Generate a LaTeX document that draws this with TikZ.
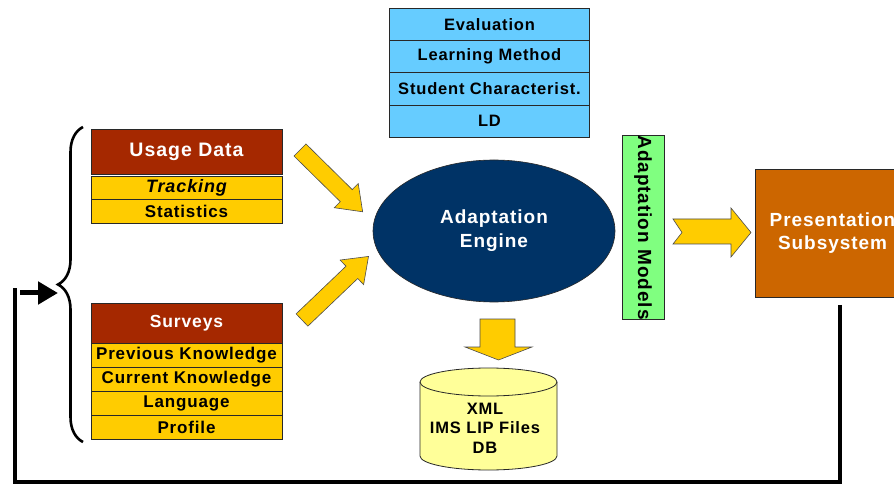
\documentclass[tikz,border=0pt]{standalone}
\usepackage{fontspec}
\setmainfont{Liberation Sans}
\usetikzlibrary{decorations.pathreplacing,arrows.meta,shapes.geometric}
\definecolor{hdred}{RGB}{165,40,0}
\definecolor{rowyel}{RGB}{255,204,0}
\definecolor{lblue}{RGB}{102,204,255}
\definecolor{navy}{RGB}{0,51,102}
\definecolor{lgreen}{RGB}{128,255,128}
\definecolor{orng}{RGB}{204,102,0}
\definecolor{dbyel}{RGB}{255,255,153}
\definecolor{edge}{RGB}{40,40,40}
\newcommand{\fs}[1]{\fontsize{#1}{#1}\selectfont\addfontfeature{LetterSpace=5}}
\tikzset{
  hdr/.style={draw=edge, line width=0.8pt, fill=hdred, text=white, inner sep=0pt, minimum width=191pt},
  rowbox/.style={draw=edge, line width=0.8pt, fill=rowyel, inner sep=0pt, minimum width=191pt, minimum height=24.2pt, font=\bfseries\fs{17}},
  bluebox/.style={draw=edge, line width=0.8pt, fill=lblue, inner sep=0pt, minimum width=200pt, minimum height=32.3pt, font=\bfseries\fs{16.5}},
  fatarrow/.style={draw=black!70, line width=0.6pt, fill=rowyel, line join=miter},
  feedback/.style={line width=4.5pt, black},
}
\begin{document}
\begin{tikzpicture}[x=1pt,y=-1pt]
\useasboundingbox (0,0) rectangle (894,486);
\clip (0,0) rectangle (894,486);
\fill[white] (0,0) rectangle (894,486);

% Usage data block
\node[hdr, minimum height=45pt, font=\bfseries\fs{19.5}] (ud) at (186.5,151.5) {Usage Data};
\node[rowbox, font=\bfseries\itshape\fs{18}] (tr) at (186.5,188.1) {Tracking};
\node[rowbox] (st) at (186.5,211.5) {Statistics};

% Surveys block
\node[hdr, minimum height=40pt, font=\bfseries\fs{17.5}] (sv) at (186.5,323) {Surveys};
\node[rowbox] (pk) at (186.5,355.1) {Previous Knowledge};
\node[rowbox] (ck) at (186.5,379.3) {Current Knowledge};
\node[rowbox] (lg) at (186.5,403.5) {Language};
\node[rowbox] (pf) at (186.5,427.7) {Profile};

% Brace
\coordinate (bt) at (83,127);
\coordinate (bb) at (83,442);
\draw[line width=2.6pt, decorate, decoration={brace, amplitude=25pt}] (bb) -- (bt);

% Model stack
\node[bluebox] (ev) at (489.5,24.2) {Evaluation};
\node[bluebox] (lm) at (489.5,56.5) {Learning Method};
\node[bluebox] (sc) at (489.5,88.8) {Student Characterist.};
\node[bluebox] (ld) at (489.5,121.1) {LD};

% Engine
\node[ellipse, draw=edge, line width=0.6pt, fill=navy, minimum width=242pt, minimum height=142pt, inner sep=0pt, text=white, align=center, font=\bfseries\fs{19}] (eng) at (494,231) {Adaptation\\[5pt]Engine};

% Adaptation models bar
\node[draw=edge, line width=0.8pt, fill=lgreen, rotate=-90, minimum width=183pt, minimum height=42pt, inner sep=0pt, font=\bfseries\fs{19}] (am) at (643,227.5) {Adaptation Models};

% Presentation subsystem
\node[draw=edge, line width=0.8pt, fill=orng, minimum width=155pt, minimum height=128pt, inner sep=0pt, text=white, align=center, font=\bfseries\fs{19}] (ps) at (832.5,233) {Presentation\\[4pt]Subsystem};

% Chevron arrow between models and presentation
\draw[fatarrow] (673,219) -- (731,219) -- (731,208) -- (751,232.5) -- (731,257) -- (731,244) -- (673,244) -- (682,232.5) -- cycle;

% Diagonal arrows into engine
\begin{scope}[shift={(300,150)}, rotate=-44.6]
  \draw[fatarrow] (0,-8.5) -- (65,-8.5) -- (65,-17) -- (88,0) -- (65,17) -- (65,8.5) -- (0,8.5) -- cycle;
\end{scope}
\begin{scope}[shift={(302,320)}, rotate=43.7]
  \draw[fatarrow] (0,-8.5) -- (69,-8.5) -- (69,-17) -- (92,0) -- (69,17) -- (69,8.5) -- (0,8.5) -- cycle;
\end{scope}

% Down arrow into DB
\draw[fatarrow] (480,319) -- (515,319) -- (515,347) -- (532,347) -- (498.5,360) -- (465,347) -- (480,347) -- cycle;

% Database cylinder
\fill[dbyel] (420,382) -- (420,456) arc[start angle=180, end angle=360, x radius=68.5pt, y radius=14pt] -- (557,382) arc[start angle=0, end angle=180, x radius=68.5pt, y radius=14pt] -- cycle;
\draw[edge, line width=0.8pt] (420,382) -- (420,456) arc[start angle=180, end angle=360, x radius=68.5pt, y radius=14pt] -- (557,382);
\draw[edge, line width=0.8pt] (488.5,382) ellipse[x radius=68.5pt, y radius=14pt];
\node[align=center, inner sep=0pt, font=\bfseries\fs{16.5}] (db) at (485,428) {XML\\[3pt]IMS LIP Files\\[3pt]DB};

% Feedback loop
\coordinate (fbTop) at (840,305);
\coordinate (fbBR) at (840,482);
\coordinate (fbBL) at (15,482);
\coordinate (fbTL) at (15,288);
\draw[feedback, line join=miter] (fbTop) -- (fbBR) -- (fbBL) -- (fbTL);
\coordinate (arS) at (20,293);
\coordinate (arE) at (58,293);
\draw[line width=5pt, -{Triangle[length=20pt,width=22pt]}] (arS) -- (arE);
\end{tikzpicture}
\end{document}
